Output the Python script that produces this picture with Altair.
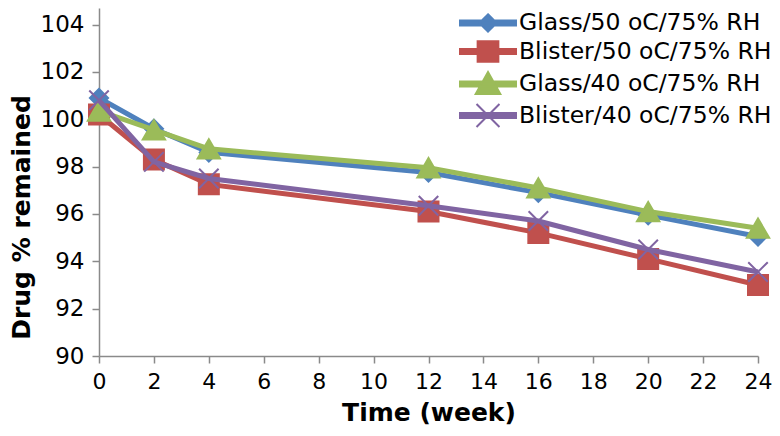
import altair as alt
import pandas as pd

# ---- data ----
weeks = [0, 2, 4, 12, 16, 20, 24]
series_names = [
    "Glass/50 oC/75% RH",
    "Blister/50 oC/75% RH",
    "Glass/40 oC/75% RH",
    "Blister/40 oC/75% RH",
]
glass_50 = [100.9, 99.6, 98.6, 97.75, 96.9, 95.95, 95.05]
blister_50 = [100.2, 98.3, 97.25, 96.1, 95.2, 94.1, 93.0]
glass_40 = [100.35, 99.55, 98.75, 97.95, 97.1, 96.1, 95.4]
blister_40 = [100.8, 98.2, 97.5, 96.35, 95.7, 94.5, 93.55]

colors = ["#4F81BD", "#C0504D", "#9BBB59", "#8064A2"]
y_ticks = [90, 92, 94, 96, 98, 100, 102, 104]
x_ticks = [0, 2, 4, 6, 8, 10, 12, 14, 16, 18, 20, 22, 24]

rows = []
for name, vals in zip(series_names, [glass_50, blister_50, glass_40, blister_40]):
    for w, v in zip(weeks, vals):
        rows.append({"series": name, "week": w, "drug": v})
df = pd.DataFrame(rows)

# marker shapes in plot
marker_paths = ["diamond", "square", "triangle-up", "M-1,-1L1,1M-1,1L1,-1"]
marker_sizes = [330, 400, 500, 380]
# legend symbols: line segment + marker (path extends beyond the unit box)
legend_paths = [
    "M-2,-0.18H2V0.18H-2Z M0,-0.62L0.62,0L0,0.62L-0.62,0Z",
    "M-2,-0.18H2V0.18H-2Z M-0.74,-0.74H0.74V0.74H-0.74Z",
    "M-2,-0.18H2V0.18H-2Z M0,-0.86L0.88,0.72H-0.88Z",
    "M-2,-0.18H2V0.18H-2Z M-0.82,-0.82L0.82,0.82M-0.82,0.82L0.82,-0.82",
]

FONT = "DejaVu Sans"

x_enc = alt.X(
    "week:Q",
    scale=alt.Scale(domain=[0, 24], nice=False, zero=False),
    axis=alt.Axis(values=x_ticks, title="Time (week)"),
)
y_enc = alt.Y(
    "drug:Q",
    scale=alt.Scale(domain=[90, 104.7], nice=False, zero=False),
    axis=alt.Axis(values=y_ticks, title="Drug % remained", titleY=209),
)

color_scale = alt.Scale(domain=series_names, range=colors)

layers = []
for i, name in enumerate(series_names):
    sub = alt.Chart(df).transform_filter(alt.datum.series == name)
    line = sub.mark_line(strokeWidth=5).encode(
        x=x_enc,
        y=y_enc,
        color=alt.Color("series:N", scale=color_scale, legend=None),
    )
    pts = sub.mark_point(
        filled=True,
        opacity=1,
        strokeWidth=2,
        shape=marker_paths[i],
        size=marker_sizes[i],
        stroke=colors[i],
    ).encode(
        x=x_enc,
        y=y_enc,
        color=alt.Color("series:N", scale=color_scale, legend=None),
    )
    layers.extend([line, pts])

leg = alt.Legend(
    title=None,
    orient="none",
    legendX=374,
    legendY=0,
    padding=0,
    symbolSize=784,
    symbolStrokeWidth=2,
    labelFont=FONT,
    labelFontSize=23.5,
    labelColor="#000000",
    labelLimit=500,
    labelOffset=16,
    rowPadding=0.5,
)

legend_layer = (
    alt.Chart(df)
    .transform_filter("false")
    .mark_point(filled=True, opacity=1, strokeWidth=2)
    .encode(
        x=x_enc,
        y=y_enc,
        fill=alt.Fill("series:N", scale=alt.Scale(domain=series_names, range=colors), legend=leg),
        stroke=alt.Stroke("series:N", scale=alt.Scale(domain=series_names, range=colors), legend=leg),
        shape=alt.Shape(
            "series:N", scale=alt.Scale(domain=series_names, range=legend_paths), legend=leg
        ),
    )
)

chart = (
    alt.layer(*layers, legend_layer)
    .resolve_scale(fill="independent", stroke="independent", shape="independent")
    .properties(
        width=659,
        height=348,
        autosize=alt.AutoSizeParams(type="none"),
        padding={"left": 91, "top": 0, "right": 14, "bottom": 72},
        background="white",
    )
    .configure_view(stroke=None)
    .configure_axis(
        grid=False,
        domainColor="#8a8a8a",
        domainWidth=1.5,
        tickColor="#8a8a8a",
        tickWidth=1.5,
        tickSize=7,
        labelFont=FONT,
        labelColor="#000000",
        labelPadding=8,
        titleFont=FONT,
        titleFontSize=25,
        titleFontWeight="bold",
        titleColor="#000000",
    )
    .configure_axisX(titlePadding=8, labelFlush=False, labelFontSize=22)
    .configure_axisY(titlePadding=6, labelFontSize=23)
)

chart.save("out.html", embed_options={"renderer": "svg", "actions": False})
